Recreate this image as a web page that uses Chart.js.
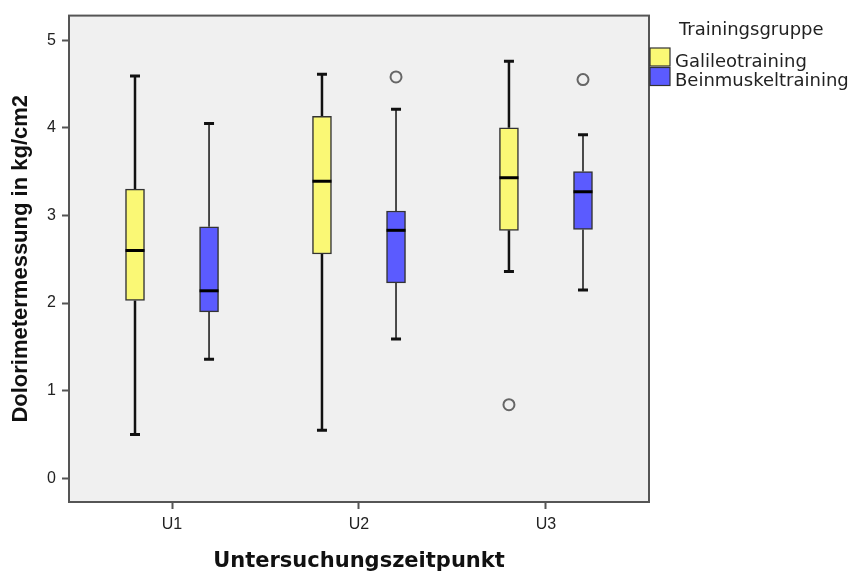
<!DOCTYPE html>
<html>
<head>
<meta charset="utf-8">
<script src="https://cdn.jsdelivr.net/npm/chart.js@4.4.1/dist/chart.umd.min.js"></script>
<style>
  html, body { margin: 0; padding: 0; background: #ffffff; }
  #wrap { width: 856px; height: 576px; }
</style>
</head>
<body>
<div id="wrap"><canvas id="c" width="856" height="576"></canvas></div>
<script>
// ---- data ----
const categories = ['U1', 'U2', 'U3'];
const groupNames = ['Galileotraining', 'Beinmuskeltraining'];
const legendTitle = 'Trainingsgruppe';
const yTicks = [0, 1, 2, 3, 4, 5];

const galileoMin    = [0.50, 0.55, 2.36];
const galileoQ1     = [2.03, 2.56, 2.83];
const galileoMedian = [2.60, 3.39, 3.43];
const galileoQ3     = [3.30, 4.13, 4.00];
const galileoMax    = [4.59, 4.61, 4.76];
const galileoOutliers = [[], [], [0.84]];

const beinMin    = [1.36, 1.59, 2.15];
const beinQ1     = [1.90, 2.23, 2.84];
const beinMedian = [2.14, 2.83, 3.27];
const beinQ3     = [2.87, 3.05, 3.50];
const beinMax    = [4.05, 4.21, 3.92];
const beinOutliers = [[], [4.58], [4.55]];

// ---- styling / layout ----
const OFF = 0.198;
const YELLOW = '#FAF875';
const BLUE = '#5B5BFF';
const groups = [
  { name: groupNames[0], color: YELLOW, off: -OFF, min: galileoMin, q1: galileoQ1, med: galileoMedian, q3: galileoQ3, max: galileoMax, out: galileoOutliers, wLine: 2.5, wColor: '#111' },
  { name: groupNames[1], color: BLUE,   off:  OFF, min: beinMin,    q1: beinQ1,    med: beinMedian,    q3: beinQ3,    max: beinMax,    out: beinOutliers,    wLine: 1.6, wColor: '#222' }
];

const boxDatasets = groups.map(g => ({
  type: 'bar',
  label: g.name,
  data: categories.map((c, i) => ({ x: i + 1 + g.off, y: [g.q1[i], g.q3[i]] })),
  backgroundColor: g.color,
  borderColor: '#333',
  borderWidth: 1.5,
  borderSkipped: false,
  barThickness: 19,
  grouped: false,
  order: 2
}));

const outlierDatasets = groups.map(g => {
  const pts = [];
  g.out.forEach((arr, i) => arr.forEach(v => pts.push({ x: i + 1 + g.off, y: v })));
  return {
    type: 'scatter',
    label: g.name + ' outliers',
    data: pts,
    pointRadius: 5.5,
    pointHoverRadius: 5.5,
    pointBorderWidth: 2,
    pointBorderColor: '#666',
    pointBackgroundColor: 'rgba(0,0,0,0)',
    order: 1
  };
});

const bgPlugin = {
  id: 'bg',
  beforeDraw(chart) {
    const { ctx, chartArea: a } = chart;
    ctx.save();
    ctx.fillStyle = '#F0F0F0';
    ctx.fillRect(a.left, a.top, a.right - a.left, a.bottom - a.top);
    ctx.restore();
  }
};

const whiskerPlugin = {
  id: 'whiskers',
  beforeDatasetsDraw(chart) {
    const { ctx, scales: { x, y } } = chart;
    ctx.save();
    groups.forEach(g => {
      categories.forEach((c, i) => {
        const px = x.getPixelForValue(i + 1 + g.off);
        ctx.strokeStyle = g.wColor;
        ctx.lineWidth = g.wLine;
        ctx.beginPath();
        ctx.moveTo(px, y.getPixelForValue(g.max[i]));
        ctx.lineTo(px, y.getPixelForValue(g.q3[i]));
        ctx.moveTo(px, y.getPixelForValue(g.q1[i]));
        ctx.lineTo(px, y.getPixelForValue(g.min[i]));
        ctx.stroke();
        ctx.lineWidth = 3;
        ctx.strokeStyle = '#111';
        ctx.beginPath();
        [g.max[i], g.min[i]].forEach(v => {
          const py = y.getPixelForValue(v);
          ctx.moveTo(px - 5, py);
          ctx.lineTo(px + 5, py);
        });
        ctx.stroke();
      });
    });
    ctx.restore();
  },
  afterDatasetsDraw(chart) {
    const { ctx, scales: { x, y } } = chart;
    ctx.save();
    groups.forEach((g, gi) => {
      const meta = chart.getDatasetMeta(gi);
      categories.forEach((c, i) => {
        const el = meta.data[i];
        const half = el.width / 2;
        const px = el.x;
        const py = y.getPixelForValue(g.med[i]);
        ctx.strokeStyle = '#000';
        ctx.lineWidth = 3;
        ctx.beginPath();
        ctx.moveTo(px - half, py);
        ctx.lineTo(px + half, py);
        ctx.stroke();
      });
    });
    ctx.restore();
  },
  afterDraw(chart) {
    const { ctx, chartArea: a } = chart;
    ctx.save();
    // frame
    ctx.strokeStyle = '#555';
    ctx.lineWidth = 2;
    ctx.strokeRect(a.left, a.top, a.right - a.left, a.bottom - a.top);
    // legend
    const lx = a.right + 1;
    ctx.fillStyle = '#222';
    ctx.textBaseline = 'alphabetic';
    ctx.textAlign = 'left';
    ctx.font = '18px "DejaVu Sans"';
    ctx.fillText(legendTitle, 679, 35);
    groups.forEach((g, gi) => {
      const top = 48 + gi * 19.5;
      ctx.fillStyle = g.color;
      ctx.fillRect(lx, top, 20, 18);
      ctx.strokeStyle = '#333';
      ctx.lineWidth = 1.2;
      ctx.strokeRect(lx, top, 20, 18);
      ctx.fillStyle = '#222';
      ctx.font = '18px "DejaVu Sans"';
      ctx.fillText(g.name, 675, top + 18.5);
    });
    ctx.restore();
  }
};

new Chart(document.getElementById('c'), {
  type: 'bar',
  data: { datasets: [...boxDatasets, ...outlierDatasets] },
  options: {
    responsive: false,
    animation: false,
    events: [],
    layout: { padding: { top: 7, right: 207, left: 0, bottom: 0 } },
    plugins: { legend: { display: false }, tooltip: { enabled: false } },
    scales: {
      x: {
        type: 'linear',
        min: 0.449,
        max: 3.551,
        offset: false,
        afterFit(s) { s.height = 74; },
        afterBuildTicks(s) { s.ticks = categories.map((c, i) => ({ value: i + 1 })); },
        ticks: {
          callback: (v) => categories[Math.round(v) - 1] || '',
          color: '#222',
          font: { family: '"Liberation Sans", Arial, sans-serif', size: 16 },
          padding: 6,
          maxRotation: 0,
          autoSkip: false
        },
        grid: { display: true, drawOnChartArea: false, drawTicks: true, tickLength: 7, tickWidth: 2, tickColor: '#555', offset: false },
        border: { display: true, color: '#555', width: 2 },
        title: {
          display: true,
          text: 'Untersuchungszeitpunkt',
          color: '#111',
          font: { family: '"DejaVu Sans"', size: 21, weight: 'bold' },
          padding: { top: 0, bottom: 2 }
        }
      },
      y: {
        type: 'linear',
        min: -0.27,
        max: 5.28,
        afterFit(s) { s.width = 69; },
        afterBuildTicks(s) { s.ticks = yTicks.map(v => ({ value: v })); },
        ticks: {
          color: '#222',
          font: { family: '"Liberation Sans", Arial, sans-serif', size: 16 },
          padding: 6
        },
        grid: { display: true, drawOnChartArea: false, drawTicks: true, tickLength: 7, tickWidth: 2, tickColor: '#555' },
        border: { display: true, color: '#555', width: 2 },
        title: {
          display: true,
          text: 'Dolorimetermessung in kg/cm2',
          color: '#111',
          font: { family: '"Liberation Sans", Arial, sans-serif', size: 22, weight: 'bold' },
          padding: { top: 8, bottom: 0 }
        }
      }
    }
  },
  plugins: [bgPlugin, whiskerPlugin]
});
</script>
</body>
</html>
